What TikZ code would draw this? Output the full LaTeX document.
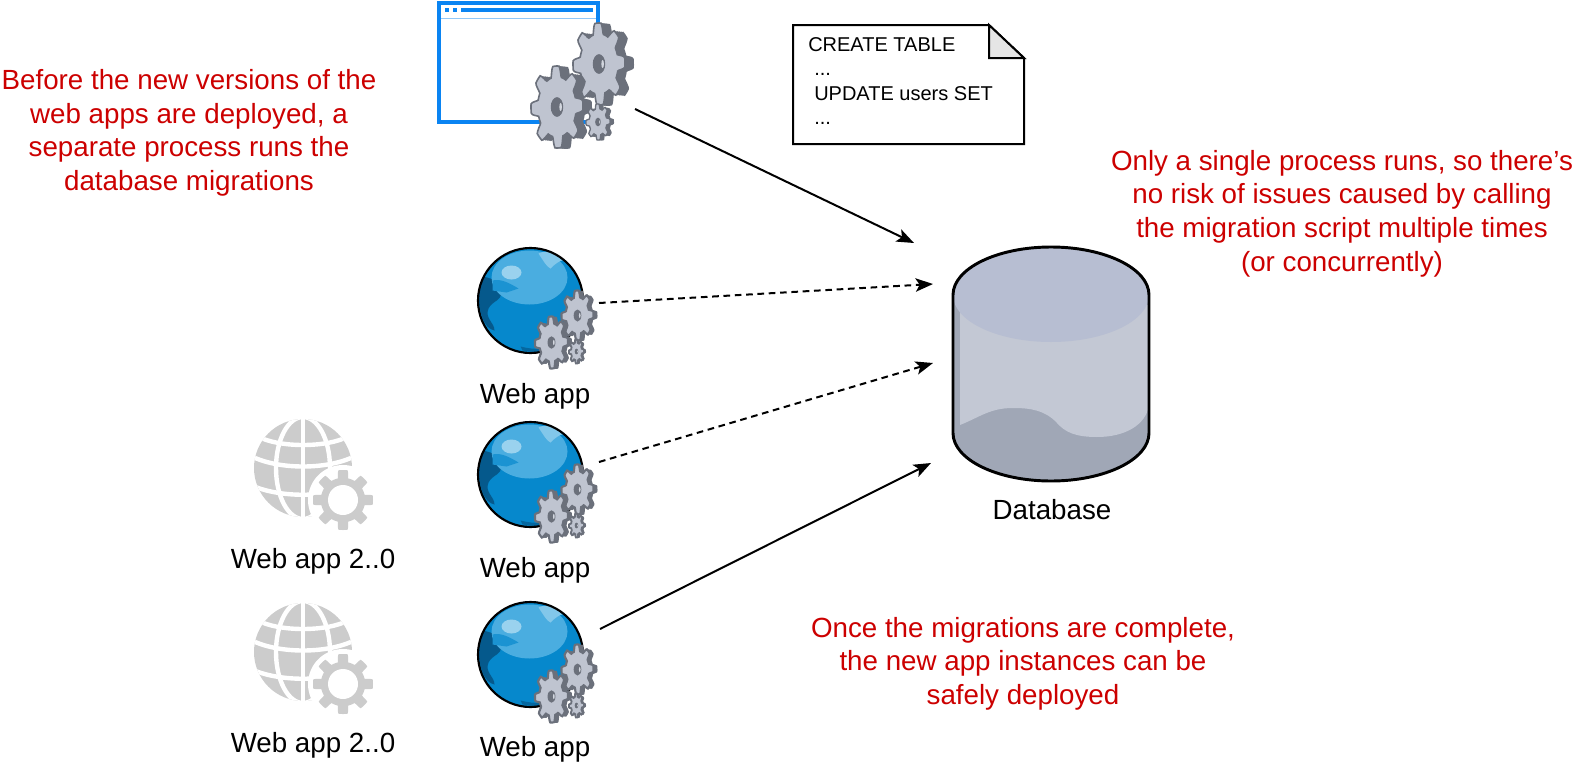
\documentclass[tikz,border=0pt]{standalone}
\usepackage{fontspec}
\setmainfont{Liberation Sans}
\usetikzlibrary{arrows.meta}
\definecolor{redtxt}{HTML}{CC0000}
\definecolor{winblue}{HTML}{0A84F2}
\definecolor{gearface}{HTML}{BFC4D0}
\definecolor{geardark}{HTML}{6B707B}
\definecolor{dbtop}{HTML}{B7BED2}
\definecolor{dbside}{HTML}{C3C8D4}
\definecolor{dbdark}{HTML}{A0A7B6}
\definecolor{iconGray}{HTML}{CCCCCC}
\definecolor{globeBase}{HTML}{0688CC}
\definecolor{globeLight}{HTML}{4AADE0}
\definecolor{globeDark}{HTML}{05598C}
\definecolor{globePale}{HTML}{9AD2EE}
\tikzset{
  x=0.75pt,y=-0.75pt,
  note/.style={text=redtxt,align=center,font=\fontsize{20.8}{25.2}\selectfont,inner sep=0pt},
  label/.style={text=black,font=\fontsize{20.8}{25}\selectfont,inner sep=0pt},
  solidlink/.style={draw=black,line width=1.5pt,-{Stealth[length=13pt,width=10pt,inset=3pt]}},
  dashlink/.style={solidlink,dash pattern=on 5pt off 3.5pt},
  docbox/.style={draw=black,line width=1.5pt,fill=white},
}
% gear outline, unit radius
\def\gearpath{plot[domain=0:360,samples=161,variable=\t] ({(0.87+0.13*max(-1,min(1,2*cos(8*\t+20))))*cos(\t)},{(0.87+0.13*max(-1,min(1,2*cos(8*\t+20))))*sin(\t)}) -- cycle}
% cx cy rx ry shadow-offset outline-width
\newcommand\mygear[6]{%
  \foreach \o in {0,0.2,0.4,0.6,0.8,1}{
    \fill[geardark,shift={({#1+#5*\o},{#2+0.1*#5*\o})},xscale=#3,yscale=#4] \gearpath;
  }
  \filldraw[fill=gearface,draw=geardark,line width=#6,shift={(#1,#2)},xscale=#3,yscale=#4] \gearpath;
  \fill[geardark,shift={(#1,#2)},xscale=#3,yscale=#4] (0,0) circle[radius=0.24];
  \fill[gearface!70!white,shift={({#1+0.14*#3},{#2})},xscale=#3,yscale=#4] (0,0) circle[x radius=0.05,y radius=0.1];
}
% web app icon, centre of globe
\newcommand\webicon[2]{%
  \begin{scope}[shift={(#1,#2)}]
    \fill[globeBase] (0,0) circle[radius=52.5];
    \begin{scope}
      \clip (0,0) circle[radius=52.5];
      \fill[globeDark] (-53,-25) .. controls (-38,-22) and (-34,-22) .. (-30,-8) .. controls (-28,0) and (-38,0) .. (-42,8) .. controls (-46,18) and (-36,22) .. (-36,30) .. controls (-46,28) and (-53,15) .. (-53,-25) -- cycle;
      \fill[globeLight] (-1,-23) circle[x radius=38,y radius=27];
      \fill[globePale!70!globeLight] (8,-47) .. controls (14,-38) and (16,-34) .. (20,-32) .. controls (26,-38) and (30,-40) .. (32,-40) .. controls (24,-50) and (14,-50) .. (8,-47) -- cycle;
      \fill[globeBase!70!globeLight] (-38,-20) .. controls (-30,-22) and (-22,-18) .. (-12,-12) -- (-24,-8) -- (-38,-10) -- cycle;
      \fill[globePale] (-19,-28) circle[x radius=10,y radius=7];
      \fill[globeDark!70!globeBase] (-10,46) .. controls (-2,48) and (5,49) .. (12,48) -- (8,52) -- (-8,50) -- cycle;
    \end{scope}
    \draw[black,line width=1.6pt] (0,0) circle[radius=52.5];
    \mygear{47}{15}{16}{25}{4}{1.6pt}
    \mygear{21}{42}{16.5}{26}{4}{1.6pt}
    \mygear{46}{51}{7.5}{12}{2}{1.4pt}
  \end{scope}
}
% faded icon, centre of globe
\newcommand\grayicon[2]{%
  \begin{scope}[shift={(#1,#2)}]
    \fill[iconGray] (0,0) circle[radius=49];
    \begin{scope}[white,line width=3.3pt]
      \clip (0,0) circle[radius=49];
      \draw (0,-50) -- (0,50);
      \draw (0,0) circle[x radius=27,y radius=51];
      \draw (-46,-32) .. controls (-25,-20) and (25,-20) .. (46,-32);
      \draw (-52,-12) .. controls (-25,2) and (25,2) .. (52,-12);
      \draw (-52,17) .. controls (-25,30) and (25,30) .. (52,17);
    \end{scope}
    \fill[white] (40,32) circle[radius=35];
    \fill[iconGray,shift={(40,32)},scale=30] plot[domain=0:360,samples=241,variable=\t] ({(0.87+0.13*max(-1,min(1,4*cos(8*\t))))*cos(\t)},{(0.87+0.13*max(-1,min(1,4*cos(8*\t))))*sin(\t)}) -- cycle;
    \fill[white] (40,32) circle[radius=15];
  \end{scope}
}
\begin{document}
\begin{tikzpicture}
\useasboundingbox (0,0) rectangle (1586,764);
% migration window
\draw[winblue,line width=3pt,fill=white] (439,3) rectangle (598,122);
\draw[winblue!45!white,line width=1.2pt] (441,18.5) -- (596,18.5);
\fill[winblue] (445,8) rectangle (449,12);
\fill[winblue] (453,8) rectangle (457,12);
\fill[winblue] (461,8) rectangle (593,12);
\mygear{599}{64}{26}{41}{9}{1.2pt}
\mygear{557}{107}{26}{41}{9}{1.2pt}
\mygear{598}{122}{12}{18}{4}{1pt}
% web apps
\webicon{530.5}{300.5}
\webicon{530.5}{474.5}
\webicon{530.5}{654.5}
\grayicon{303}{468}
\grayicon{303}{652}
% labels
\node[label] (w1) at (535,396.5) {Web app};
\node[label] (w2) at (535,570.5) {Web app};
\node[label] (w3) at (535,749.5) {Web app};
\node[label] (g1) at (313,561.5) {Web app 2..0};
\node[label] (g2) at (313,745.5) {Web app 2..0};
\node[label] (dbl) at (1052,510) {Database};
% document
\draw[docbox] (793,25) -- (989,25) -- (1024,58) -- (1024,144) -- (793,144) -- cycle;
\draw[black,line width=1.5pt,fill=black!10] (989,25) -- (1024,58) -- (989,58) -- cycle;
\node[anchor=north west,align=left,inner sep=0pt,font=\fontsize{15}{18.4}\selectfont] (sql) at (808,37) {CREATE TABLE\\\hspace*{4.5pt}...\\\hspace*{4.5pt}UPDATE users SET\\\hspace*{4.5pt}...};
% database
\fill[dbdark] (953,295) .. controls (953,268.5) and (997,247) .. (1051,247) .. controls (1105,247) and (1149,268.5) .. (1149,295) -- (1149,433) .. controls (1149,459.5) and (1105,481) .. (1051,481) .. controls (997,481) and (953,459.5) .. (953,433) -- cycle;
\fill[dbside] (960,305) -- (1149,305) -- (1149,405) .. controls (1146,425) and (1125,437) .. (1097,437) .. controls (1075,437) and (1065,432) .. (1057,423) .. controls (1045,410) and (1030,408) .. (1013,408) .. controls (990,408) and (980,417) .. (960,425) -- cycle;
\fill[dbtop] (953,295) .. controls (953,268.5) and (997,247) .. (1051,247) .. controls (1105,247) and (1149,268.5) .. (1149,295) .. controls (1149,321) and (1105,342) .. (1051,342) .. controls (997,342) and (953,321) .. (953,295) -- cycle;
\draw[black,line width=2.2pt] (953,295) .. controls (953,268.5) and (997,247) .. (1051,247) .. controls (1105,247) and (1149,268.5) .. (1149,295) -- (1149,433) .. controls (1149,459.5) and (1105,481) .. (1051,481) .. controls (997,481) and (953,459.5) .. (953,433) -- cycle;
% connector ends
\coordinate (procOut) at (635,109);
\coordinate (app1Out) at (599,303);
\coordinate (app2Out) at (599,462);
\coordinate (app3Out) at (600,629);
\coordinate (dbIn1) at (914,243);
\coordinate (dbIn2) at (933,284);
\coordinate (dbIn3) at (933,363);
\coordinate (dbIn4) at (931,463);
\draw[solidlink] (procOut) -- (dbIn1);
\draw[dashlink] (app1Out) -- (dbIn2);
\draw[dashlink] (app2Out) -- (dbIn3);
\draw[solidlink] (app3Out) -- (dbIn4);
% notes
\node[note] (n1) at (189,133) {Before the new versions of the\\web apps are deployed, a\\separate process runs the\\database migrations};
\node[note] (n2) at (1342,213.5) {Only a single process runs, so there's\\no risk of issues caused by calling\\the migration script multiple times\\(or concurrently)};
\node[note] (n3) at (1023,663.5) {Once the migrations are complete,\\the new app instances can be\\safely deployed};
\end{tikzpicture}
\end{document}
